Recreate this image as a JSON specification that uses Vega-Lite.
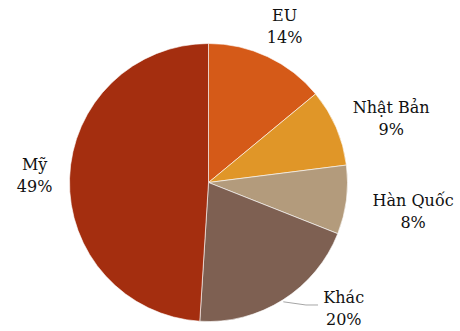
{
  "$schema": "https://vega.github.io/schema/vega-lite/v6.json",
  "width": 417,
  "height": 297,
  "autosize": "none",
  "padding": {"left": 0, "top": 34, "right": 43, "bottom": 0},
  "background": "white",
  "view": {"stroke": null},
  "data": {
    "values": [
      {"rank": 1, "category": "EU", "share": 0.14},
      {"rank": 2, "category": "Nhật Bản", "share": 0.09},
      {"rank": 3, "category": "Hàn Quốc", "share": 0.08},
      {"rank": 4, "category": "Khác", "share": 0.20},
      {"rank": 5, "category": "Mỹ", "share": 0.49}
    ]
  },
  "layer": [
    {
      "mark": {"type": "arc", "outerRadius": 139, "stroke": "#ffffff", "strokeWidth": 0.6},
      "encoding": {
        "theta": {"field": "share", "type": "quantitative", "stack": true},
        "order": {"field": "rank", "type": "quantitative"},
        "color": {
          "field": "category",
          "type": "nominal",
          "scale": {
            "domain": ["EU", "Nhật Bản", "Hàn Quốc", "Khác", "Mỹ"],
            "range": ["#D55A18", "#E09628", "#B39B7C", "#7E6052", "#A42E0F"]
          },
          "legend": null
        }
      }
    },
    {
      "mark": {
        "type": "text",
        "radius": 174,
        "font": "DejaVu Serif",
        "fontSize": 16,
        "color": "#111111",
        "align": "center",
        "baseline": "middle",
        "dx": {"expr": "datum.category === 'Nhật Bản' ? 23 : datum.category === 'Hàn Quốc' ? 32 : datum.category === 'Khác' ? 42 : datum.category === 'EU' ? 2 : 0"},
        "dy": {"expr": "datum.category === 'Nhật Bản' ? -5 : datum.category === 'Hàn Quốc' ? -3.5 : datum.category === 'Khác' ? -31 : datum.category === 'EU' ? -9.5 : -12"}
      },
      "encoding": {
        "theta": {"field": "share", "type": "quantitative", "stack": true},
        "order": {"field": "rank", "type": "quantitative"},
        "text": {"field": "category", "type": "nominal"}
      }
    },
    {
      "mark": {
        "type": "text",
        "radius": 174,
        "font": "DejaVu Serif",
        "fontSize": 16,
        "color": "#111111",
        "align": "center",
        "baseline": "middle",
        "dx": {"expr": "datum.category === 'Nhật Bản' ? 23 : datum.category === 'Hàn Quốc' ? 32 : datum.category === 'Khác' ? 42 : datum.category === 'EU' ? 2 : 0"},
        "dy": {"expr": "datum.category === 'Nhật Bản' ? 17 : datum.category === 'Hàn Quốc' ? 18.5 : datum.category === 'Khác' ? -9 : datum.category === 'EU' ? 12.5 : 10"}
      },
      "encoding": {
        "theta": {"field": "share", "type": "quantitative", "stack": true},
        "order": {"field": "rank", "type": "quantitative"},
        "text": {"field": "share", "type": "quantitative", "format": ".0%"}
      }
    },
    {
      "data": {
        "values": [
          {"lx": 0.538, "ly": -0.858},
          {"lx": 0.701, "ly": -0.881},
          {"lx": 0.788, "ly": -0.881}
        ]
      },
      "mark": {"type": "line", "color": "#A6A6A6", "strokeWidth": 1},
      "encoding": {
        "x": {"field": "lx", "type": "quantitative", "scale": {"domain": [-1.5, 1.5], "nice": false, "zero": false}, "axis": null},
        "y": {"field": "ly", "type": "quantitative", "scale": {"domain": [-1.068, 1.068], "nice": false, "zero": false}, "axis": null}
      }
    }
  ]
}
